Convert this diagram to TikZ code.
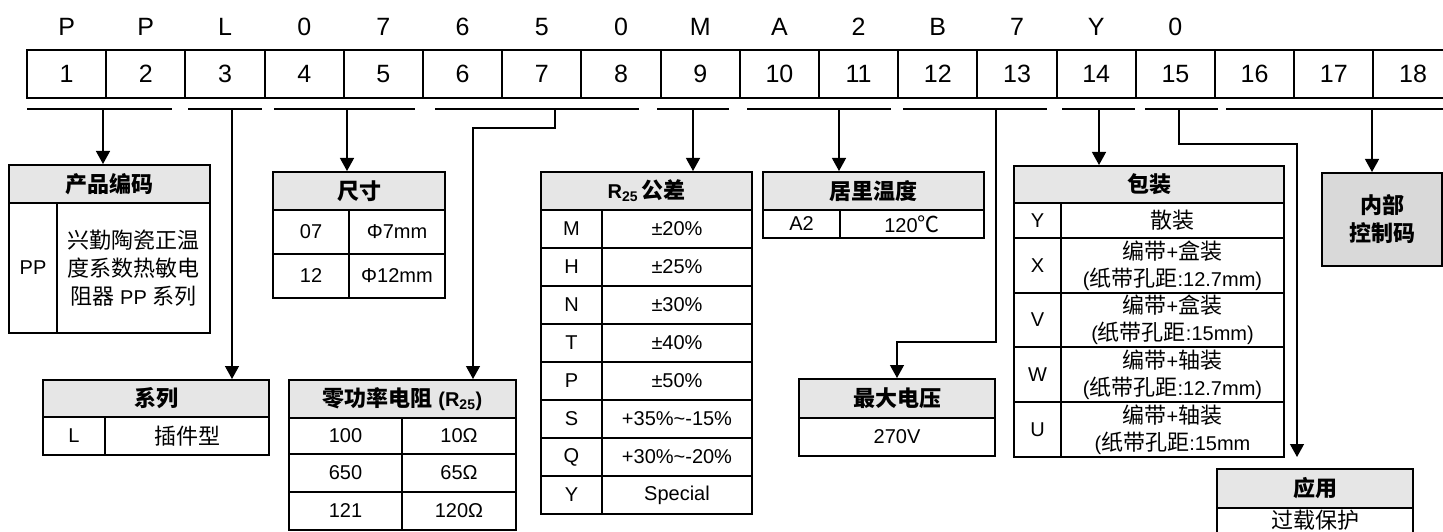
\documentclass[tikz,border=0pt]{standalone}
\usepackage{fontspec}
\setmainfont{Liberation Sans}
\newfontfamily\cjk[Scale=1.1]{Noto Sans CJK SC}
\usetikzlibrary{arrows.meta}
\definecolor{hdrgray}{RGB}{230,230,230}
\definecolor{icgray}{RGB}{217,217,217}
\newcommand\zh[1]{{\cjk #1}}
\newcommand\cellnode[7][]{\node[tcell,#1,minimum width={(#5)-(#3)},minimum height={(#6)-(#4)}] (#2) at ({((#3)+(#5))/2},{((#4)+(#6))/2}) {#7};}
\begin{document}
\begin{tikzpicture}[x=1pt,y=-1pt,
  tcell/.style={draw,line width=2pt,inner sep=0pt,align=center,font=\fontsize{20}{27}\selectfont},
  hdr/.style={fill=hdrgray,font=\fontsize{20}{28}\selectfont\bfseries},
  codecell/.style={draw,line width=2pt,inner sep=0pt,minimum width=79.2pt,minimum height=48pt,font=\fontsize{25}{30}\selectfont},
  codechar/.style={inner sep=0pt,font=\fontsize{25}{30}\selectfont},
  uline/.style={line width=1.3pt},
  conn/.style={line width=1.3pt,-{Triangle[width=14pt,length=13pt]}}]
\useasboundingbox (0,0) rectangle (1443,532);
\clip (0,0) rectangle (1443,532);
\fill[white] (0,0) rectangle (1443,532);
% code letters
\foreach \i/\l in {1/P,2/P,3/L,4/0,5/7,6/6,7/5,8/0,9/M,10/A,11/2,12/B,13/7,14/Y,15/0}
  {\node[codechar] (l\i) at ({27+79.2*(\i-0.5)},27) {\l};}
% code cells
\foreach \i in {1,...,18}
  {\node[codecell] (c\i) at ({27+79.2*(\i-0.5)},74) {\i};}
% underlines
\foreach \a/\b in {27/172,188/262,274/415,435/639,657/729,747/891,903/1047,1062/1135,1145/1218,1226/1443}
  {\draw[uline] (\a,109) -- (\b,109);}
% coordinates on underlines
\coordinate (u1) at (103,109);
\coordinate (u2) at (232,109);
\coordinate (u3) at (347,109);
\coordinate (u4) at (555,109);
\coordinate (u5) at (693,109);
\coordinate (u6) at (839,109);
\coordinate (u7) at (996,109);
\coordinate (u8) at (1099,109);
\coordinate (u9) at (1179,109);
\coordinate (u10) at (1372,109);
\coordinate (k4) at (473,128);
\coordinate (k7) at (897,342);
\coordinate (k9) at (1297,144);
\coordinate (e9) at (1297,457);

% product code
\cellnode[hdr]{pch}{9}{165}{210}{203}{\zh{产品编码}}
\cellnode{pcl}{9}{203}{57}{333}{PP}
\cellnode[font=\fontsize{20}{28}\selectfont]{pcr}{57}{203}{210}{333}{\zh{兴勤陶瓷正温}\\\zh{度系数热敏电}\\\zh{阻器} PP \zh{系列}}

% series
\cellnode[hdr]{sh}{43}{380}{269}{417}{\zh{系列}}
\cellnode{sl}{43}{417}{105}{455}{L}
\cellnode{sr}{105}{417}{269}{455}{\zh{插件型}}

% size
\cellnode[hdr]{zh}{273}{172}{445}{210}{\zh{尺寸}}
\cellnode{z1l}{273}{210}{349}{254}{07}
\cellnode{z1r}{349}{210}{445}{254}{Φ7mm}
\cellnode{z2l}{273}{254}{349}{298}{12}
\cellnode{z2r}{349}{254}{445}{298}{Φ12mm}

% zero power resistance
\cellnode[hdr]{rh}{289}{380}{516}{418}{\zh{零功率电阻} (R\textsubscript{25})}
\cellnode{r1l}{289}{418}{402}{454}{100}
\cellnode{r1r}{402}{418}{516}{454}{10Ω}
\cellnode{r2l}{289}{454}{402}{492}{650}
\cellnode{r2r}{402}{454}{516}{492}{65Ω}
\cellnode{r3l}{289}{492}{402}{530}{121}
\cellnode{r3r}{402}{492}{516}{530}{120Ω}

% R25 tolerance
\cellnode[hdr]{th}{541}{172}{752}{210}{R\textsubscript{25}\,\zh{公差}}
\foreach \k/\c/\v [count=\n from 0] in {t1/M/±20\%,t2/H/±25\%,t3/N/±30\%,t4/T/±40\%,t5/P/±50\%,t6/S/+35\%\textasciitilde-15\%,t7/Q/+30\%\textasciitilde-20\%,t8/Y/Special}
  {\cellnode{\k l}{541}{210+38*\n}{602}{248+38*\n}{\c}
   \cellnode{\k r}{602}{210+38*\n}{752}{248+38*\n}{\v}}

% Curie temperature
\cellnode[hdr]{mh}{763}{172}{984}{210}{\zh{居里温度}}
\cellnode{m1l}{763}{210}{840}{238}{A2}
\cellnode{m1r}{840}{210}{984}{238}{120\zh{℃}}

% max voltage
\cellnode[hdr]{vh}{799}{379}{995}{418}{\zh{最大电压}}
\cellnode{v1}{799}{418}{995}{456}{270V}

% packaging
\cellnode[hdr]{ph}{1014}{166}{1284}{203}{\zh{包装}}
\cellnode{pYl}{1014}{203}{1061}{238}{Y}
\cellnode{pYr}{1061}{203}{1284}{238}{\zh{散装}}
\cellnode{pXl}{1014}{238}{1061}{293}{X}
\cellnode{pXr}{1061}{238}{1284}{293}{\zh{编带}+\zh{盒装}\\(\zh{纸带孔距}:12.7mm)}
\cellnode{pVl}{1014}{293}{1061}{347}{V}
\cellnode{pVr}{1061}{293}{1284}{347}{\zh{编带}+\zh{盒装}\\(\zh{纸带孔距}:15mm)}
\cellnode{pWl}{1014}{347}{1061}{402}{W}
\cellnode{pWr}{1061}{347}{1284}{402}{\zh{编带}+\zh{轴装}\\(\zh{纸带孔距}:12.7mm)}
\cellnode{pUl}{1014}{402}{1061}{457}{U}
\cellnode{pUr}{1061}{402}{1284}{457}{\zh{编带}+\zh{轴装}\\(\zh{纸带孔距}:15mm}

% internal code
\cellnode[hdr,fill=icgray]{ic}{1322}{173}{1442}{266}{\zh{内部}\\\zh{控制码}}

% application
\cellnode[hdr]{ah}{1217}{469}{1413}{508}{\zh{应用}}
\cellnode{a1}{1217}{508}{1413}{546}{\raisebox{-1pt}[0pt][0pt]{\zh{过载保护}}}

% connectors
\draw[conn] (u1) -- (u1 |- pch.north);
\draw[conn] (u2) -- (u2 |- sh.north);
\draw[conn] (u3) -- (u3 |- zh.north);
\draw[conn] (u4) |- (k4) -- (k4 |- rh.north);
\draw[conn] (u5) -- (u5 |- th.north);
\draw[conn] (u6) -- (u6 |- mh.north);
\draw[conn] (u7) |- (k7) -- (k7 |- vh.north);
\draw[conn] (u8) -- (u8 |- ph.north);
\draw[conn] (u9) |- (k9) -- (e9);
\draw[conn] (u10) -- (u10 |- ic.north);
\end{tikzpicture}
\end{document}
